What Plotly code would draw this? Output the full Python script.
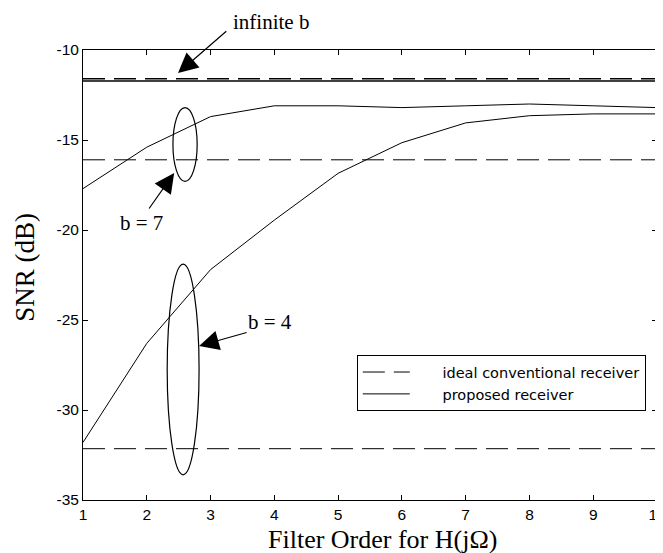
import plotly.graph_objects as go

order = [1, 2, 3, 4, 5, 6, 7, 8, 9, 10]
inf_conv = [-11.6] * 10
inf_prop = [-11.72] * 10
b7_conv = [-16.1] * 10
b7_prop = [-17.7, -15.4, -13.7, -13.1, -13.1, -13.2, -13.1, -13.0, -13.1, -13.2]
b4_conv = [-32.15] * 10
b4_prop = [-31.8, -26.3, -22.2, -19.45, -16.85, -15.15, -14.05, -13.65, -13.55, -13.55]

xticks = [1, 2, 3, 4, 5, 6, 7, 8, 9, 10]
xticktext = ["1", "2", "3", "4", "5", "6", "7", "8", "9", "10"]
yticks = [-35, -30, -25, -20, -15, -10]
yticktext = ["-35", "-30", "-25", "-20", "-15", "-10"]

DASH = "22px,9px"
PAD = "\u00a0" * 6
fig = go.Figure()

def add(y, dashed, width=1.0, name=None, show=False):
    fig.add_trace(go.Scatter(
        x=order, y=y, mode="lines", name=name, showlegend=show,
        line=dict(color="black", width=width, dash=DASH if dashed else "solid"),
    ))

add(inf_conv, True, 1.5)
add(inf_prop, False, 1.5)
add(b7_conv, True)
add(b7_prop, False)
add(b4_conv, True, 1.0, PAD + "ideal conventional receiver", True)
add(b4_prop, False, 1.0, PAD + "proposed receiver", True)

serif = "Liberation Serif"
sans = "Liberation Sans"

# ellipses
fig.add_shape(type="circle", xref="x", yref="y", x0=2.41, x1=2.79, y0=-17.3, y1=-13.2,
              line=dict(color="black", width=1.2))
fig.add_shape(type="circle", xref="x", yref="y", x0=2.32, x1=2.82, y0=-33.6, y1=-21.9,
              line=dict(color="black", width=1.2))

def arrow(x, y, ax, ay):
    fig.add_annotation(x=x, y=y, ax=ax, ay=ay, xref="x", yref="y", axref="x", ayref="y",
                       text="", showarrow=True, arrowhead=2, arrowsize=3.3, arrowwidth=1.2,
                       arrowcolor="black")

def label(x, y, t, xref="x", yref="y", size=21, angle=0):
    fig.add_annotation(x=x, y=y, xref=xref, yref=yref, text=t, showarrow=False,
                       xanchor="center", yanchor="middle", textangle=angle,
                       font=dict(family=serif, size=size, color="black"))

arrow(2.49, -11.28, 3.27, -8.89)
label(0.328, 1.062, "infinite b", "paper", "paper")
arrow(2.43, -16.83, 2.02, -18.89)
label(1.91, -19.6, "b = 7")
arrow(2.82, -26.44, 3.59, -25.67)
label(3.93, -25.1, "b = 4")

# axis titles
label(0.521, -0.088, "Filter Order for H(jΩ)", "paper", "paper", size=26)
label(-0.101, 0.516, "SNR (dB)", "paper", "paper", size=27, angle=-90)

fig.update_layout(
    width=655, height=545,
    margin=dict(l=75, r=6, t=42, b=53),
    paper_bgcolor="white", plot_bgcolor="white",
    font=dict(family=sans, color="black"),
    showlegend=True,
    legend=dict(x=0.477, y=0.322, xanchor="left", yanchor="top",
                bordercolor="black", borderwidth=1, bgcolor="white",
                font=dict(family="DejaVu Sans", size=14.5, color="black"),
                tracegroupgap=0, itemwidth=47),
    xaxis=dict(range=[1, 10], tickvals=xticks, ticktext=xticktext, ticks="inside", ticklen=5,
               tickcolor="black", showline=True, linecolor="black", linewidth=1,
               mirror="allticks", showgrid=False, zeroline=False, automargin=False,
               ticklabeloverflow="allow",
               tickfont=dict(family=sans, size=15.5, color="black")),
    yaxis=dict(range=[-35, -10], tickvals=yticks, ticktext=yticktext, ticks="inside", ticklen=5,
               tickcolor="black", showline=True, linecolor="black", linewidth=1,
               mirror="allticks", showgrid=False, zeroline=False, automargin=False,
               ticklabeloverflow="allow",
               tickfont=dict(family=sans, size=15.5, color="black")),
)

fig.write_html("out.html")
